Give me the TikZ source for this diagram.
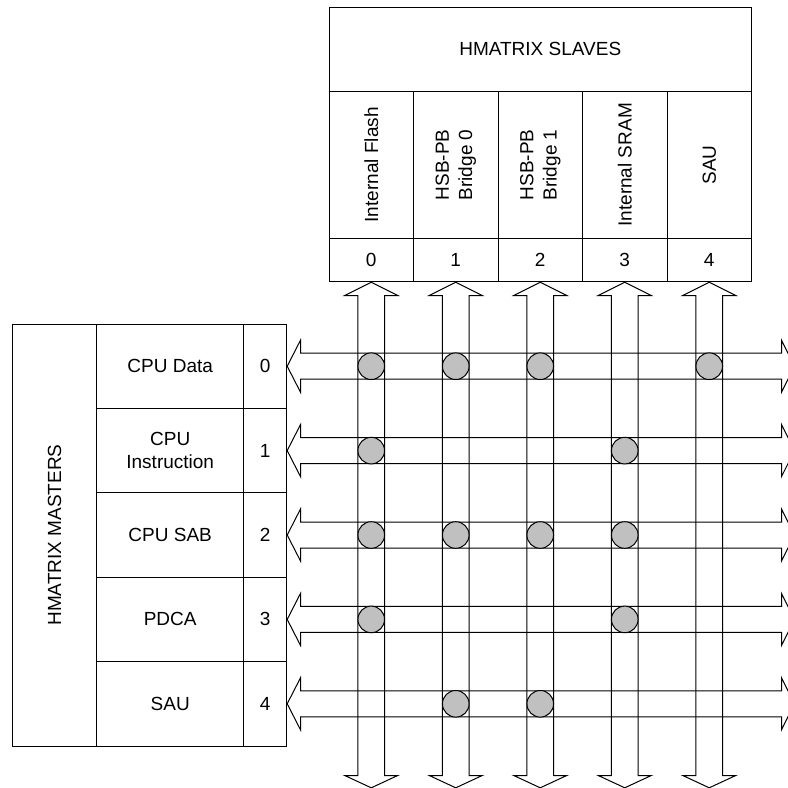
\documentclass[tikz,border=0pt]{standalone}
\usepackage{fontspec}
\setmainfont{Liberation Sans}
\definecolor{dotgray}{RGB}{192,192,192}
\tikzset{
  txt/.style={font=\fontsize{19}{23.3}\selectfont, align=center, inner sep=0pt},
  cell/.style={draw, line width=1pt, inner sep=0pt, align=center, font=\fontsize{19}{23.3}\selectfont},
  bus/.style={draw, line width=1pt, line join=miter},
  dot/.style={circle, draw, fill=dotgray, line width=1pt, minimum size=26.6pt, inner sep=0pt},
}
\begin{document}
\begin{tikzpicture}[x=1pt,y=-1pt]
\useasboundingbox (0,0) rectangle (788,788);
\clip (0,0) rectangle (788,788);
% slaves table
\node[cell, minimum width=422.5pt, minimum height=84pt] (shead) at (540.25,49) {HMATRIX SLAVES};
\foreach \t [count=\i from 0] in {{Internal Flash},{HSB-PB\\Bridge 0},{HSB-PB\\Bridge 1},{Internal SRAM},{SAU}} {
  \node[cell, minimum width=84.5pt, minimum height=147.7pt] (sname\i) at (371.25+84.5*\i,164.85) {};
  \node[txt, rotate=90] (stxt\i) at (sname\i) {\t};
  \node[cell, minimum width=84.5pt, minimum height=43pt] (snum\i) at (371.25+84.5*\i,260.2) {\i};
}
% masters table
\node[cell, minimum width=84.4pt, minimum height=422pt] (mhead) at (54.5,535) {};
\node[txt, rotate=90] (mtxt) at (mhead) {HMATRIX MASTERS};
\foreach \t [count=\j from 0] in {{CPU Data},{CPU\\Instruction},{CPU SAB},{PDCA},{SAU}} {
  \node[cell, minimum width=147pt, minimum height=84.4pt] (mname\j) at (170.2,366.2+84.4*\j) {\t};
  \node[cell, minimum width=43pt, minimum height=84.4pt] (mnum\j) at (265.2,366.2+84.4*\j) {\j};
}
% vertical buses
\foreach \i in {0,...,4} {
  \draw[bus] (snum\i.south) -- ++(26.5,13.3) -- ++(-13.2,0) -- ++(0,480) -- ++(13.2,0)
    -- ++(-26.5,12.3) -- ++(-26.5,-12.3) -- ++(13.2,0) -- ++(0,-480) -- ++(-13.2,0) -- cycle;
}
% horizontal buses
\foreach \j in {0,...,4} {
  \draw[bus] (mnum\j.east) -- ++(13.3,-26) -- ++(0,13) -- ++(481,0) -- ++(0,-13)
    -- ++(13,26) -- ++(-13,26) -- ++(0,-13) -- ++(-481,0) -- ++(0,13) -- cycle;
}
% connections
\foreach \c/\r in {0/0,1/0,2/0,4/0,0/1,3/1,0/2,1/2,2/2,3/2,0/3,3/3,1/4,2/4} {
  \node[dot] (x\c\r) at (snum\c |- mnum\r) {};
}
\end{tikzpicture}
\end{document}
